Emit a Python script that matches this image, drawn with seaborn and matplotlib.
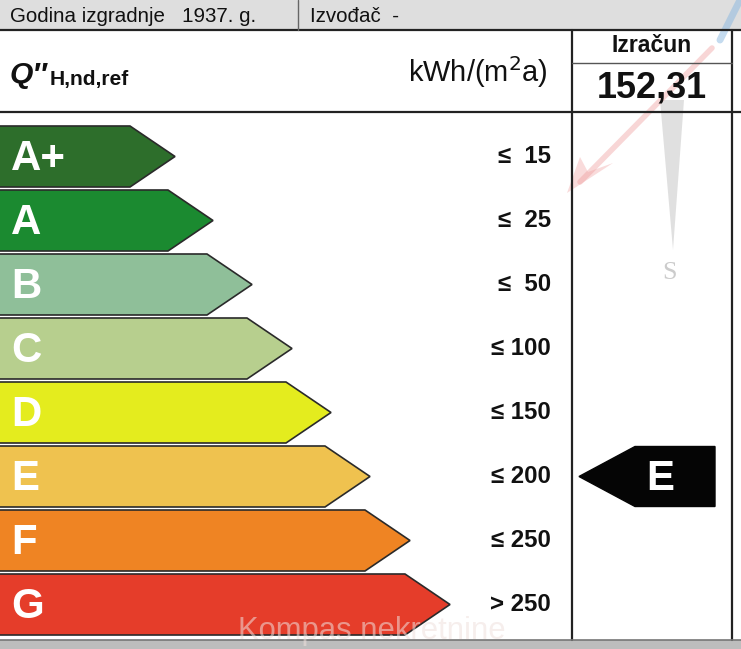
import matplotlib
matplotlib.use("Agg")
import matplotlib.pyplot as plt
import seaborn as sns
from matplotlib.patches import Polygon, Rectangle

# ---- data ----
classes = ["A+", "A", "B", "C", "D", "E", "F", "G"]
limits = ["≤  15", "≤  25", "≤  50", "≤ 100", "≤ 150", "≤ 200", "≤ 250", "> 250"]
arrow_tip = [175, 213, 252, 292, 331, 370, 410, 450]   # arrow lengths (px scale)
colors = ["#2d6e2b", "#1b8a30", "#8fbf99", "#b7cf8e", "#e4ec1e", "#efc24f", "#ef8423", "#e53d2a"]
year_text = "Godina izgradnje   1937. g."
builder_text = "Izvođač  -"
result_label = "Izračun"
result_value = "152,31"
result_class = "E"

sns.set_theme(style="white")
plt.rcParams["font.family"] = ["Liberation Sans", "DejaVu Sans"]

W, H = 741, 649
fig = plt.figure(figsize=(W / 100, H / 100), dpi=100)
ax = fig.add_axes([0, 0, 1, 1])
ax.set_xlim(0, W)
ax.set_ylim(H, 0)
ax.axis("off")

def pt(px):
    return px * 72 / 100

lc = "#222222"
# header band
ax.add_patch(Rectangle((0, 0), W, 30, facecolor="#dedede", edgecolor="none", zorder=0))
ax.plot([0, W], [30, 30], color=lc, lw=1.6)
ax.plot([298, 298], [0, 30], color="#666666", lw=1.0)
ax.plot([0, W], [112, 112], color=lc, lw=1.6)
ax.plot([572, 572], [30, 640], color=lc, lw=1.6)
ax.plot([732, 732], [30, 640], color=lc, lw=1.6)
ax.plot([572, 732], [63, 63], color="#555555", lw=1.0)
ax.add_patch(Rectangle((0, 640), W, 9, facecolor="#bdbdbd", edgecolor="none", zorder=0))
ax.plot([0, W], [640, 640], color="#777777", lw=1.2)

# faint compass decoration
ax.add_patch(Polygon([[660, 100], [684, 100], [673, 250]], closed=True,
                     facecolor="#9a9a9a", alpha=0.3, edgecolor="none", zorder=1))
ax.plot([712, 580], [48, 182], color="#ee9a9a", alpha=0.4, lw=4, solid_capstyle="round", zorder=1)
ax.add_patch(Polygon([[567, 193], [580, 157], [588, 172], [613, 163]], closed=True,
                     facecolor="#ee9a9a", alpha=0.35, edgecolor="none", zorder=1))
ax.plot([720, 740], [40, 0], color="#8ab8e0", alpha=0.5, lw=5, zorder=1)
ax.text(670, 273, "S", fontsize=pt(26), color="#cccccc", va="center", ha="center",
        family=["Liberation Serif", "DejaVu Serif"], zorder=1)

ax.text(10, 17, year_text, fontsize=pt(20.5), va="center", ha="left", color="#111111")
ax.text(310, 17, builder_text, fontsize=pt(20.5), va="center", ha="left", color="#111111")

ax.text(10, 75, "Q\u2033", fontsize=pt(30), fontweight="bold", fontstyle="italic",
        va="center", ha="left", color="#111111")
ax.text(50, 80, "H,nd,ref", fontsize=pt(21), fontweight="bold", va="center", ha="left", color="#111111")
ax.text(548, 72, r"kWh/(m$^{2}$a)", fontsize=pt(29), va="center", ha="right", color="#111111")

ax.text(652, 45, result_label, fontsize=pt(23), fontweight="bold", va="center", ha="center", color="#111111", zorder=3)
ax.text(652, 88, result_value, fontsize=pt(36), fontweight="bold", va="center", ha="center", color="#111111", zorder=3)

# class arrows
top0, step, hgt, head = 126, 64, 61, 45
for i, (c, lim, tip, col) in enumerate(zip(classes, limits, arrow_tip, colors)):
    y0 = top0 + i * step
    y1 = y0 + hgt
    ym = (y0 + y1) / 2
    poly = Polygon([[-2, y0], [tip - head, y0], [tip, ym], [tip - head, y1], [-2, y1]],
                   closed=True, facecolor=col, edgecolor="#2a2a2a", lw=1.2, zorder=2)
    ax.add_patch(poly)
    ax.text(11, ym + 2, c, fontsize=pt(42), fontweight="bold", color="white", va="center", ha="left", zorder=3)
    ax.text(551, ym, lim, fontsize=pt(24), fontweight="bold", color="#111111",
            va="center", ha="right", zorder=3)

# result pointer
ri = classes.index(result_class)
ym = top0 + ri * step + hgt / 2
ax.add_patch(Polygon([[579, ym], [635, ym - 30], [715, ym - 30], [715, ym + 30], [635, ym + 30]],
                     closed=True, facecolor="#050505", edgecolor="#050505", zorder=2))
ax.text(660, ym + 2, result_class, fontsize=pt(42), fontweight="bold", color="white",
        va="center", ha="center", zorder=3)

# faint watermark
ax.text(372, 631, "Kompas nekretnine", fontsize=pt(31), color="#efe0dd", alpha=0.55,
        va="center", ha="center", zorder=4)

fig.savefig("out.png", dpi=100)
